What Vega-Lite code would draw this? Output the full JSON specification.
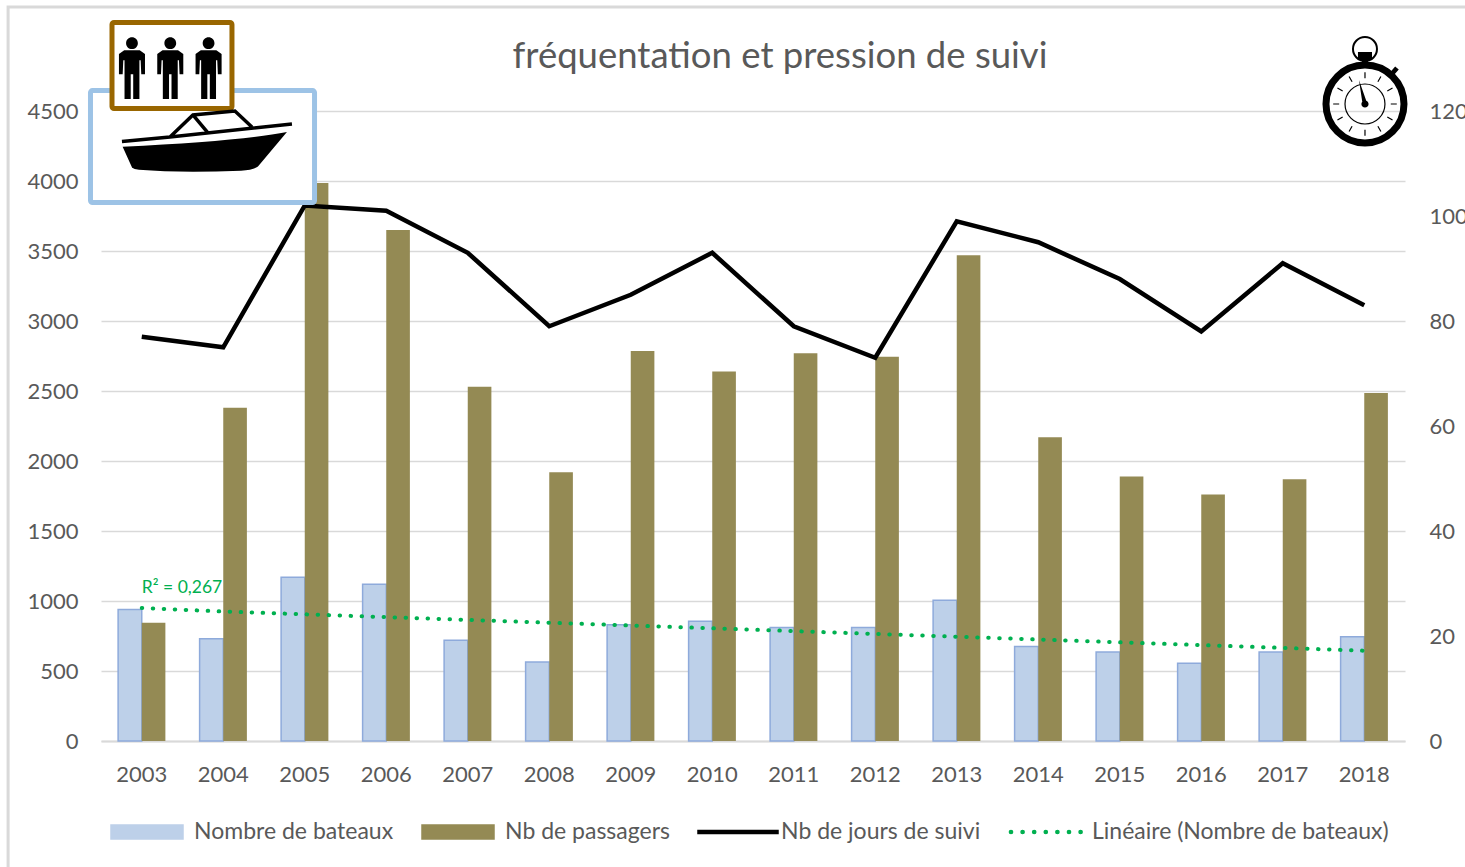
{
"$schema":"https://vega.github.io/schema/vega-lite/v6.json",
"width":1304,"height":630,
"autosize":"none",
"padding":{"left":101,"top":111,"right":60,"bottom":126},
"background":"white",
"config":{"font":"Lato","view":{"stroke":null}},
"title":{"text":"fréquentation et pression de suivi","fontSize":36.5,"font":"Lato","fontWeight":"normal","color":"#595959","anchor":"middle","dx":27,"offset":-70},
"datasets":{
"main":[
{"year":"2003","series":"Nombre de bateaux","value":940},{"year":"2004","series":"Nombre de bateaux","value":730},{"year":"2005","series":"Nombre de bateaux","value":1170},{"year":"2006","series":"Nombre de bateaux","value":1120},{"year":"2007","series":"Nombre de bateaux","value":720},{"year":"2008","series":"Nombre de bateaux","value":565},{"year":"2009","series":"Nombre de bateaux","value":830},{"year":"2010","series":"Nombre de bateaux","value":855},{"year":"2011","series":"Nombre de bateaux","value":810},{"year":"2012","series":"Nombre de bateaux","value":810},{"year":"2013","series":"Nombre de bateaux","value":1005},{"year":"2014","series":"Nombre de bateaux","value":675},{"year":"2015","series":"Nombre de bateaux","value":635},{"year":"2016","series":"Nombre de bateaux","value":555},{"year":"2017","series":"Nombre de bateaux","value":635},{"year":"2018","series":"Nombre de bateaux","value":745},
{"year":"2003","series":"Nb de passagers","value":845},{"year":"2004","series":"Nb de passagers","value":2380},{"year":"2005","series":"Nb de passagers","value":3985},{"year":"2006","series":"Nb de passagers","value":3650},{"year":"2007","series":"Nb de passagers","value":2530},{"year":"2008","series":"Nb de passagers","value":1920},{"year":"2009","series":"Nb de passagers","value":2785},{"year":"2010","series":"Nb de passagers","value":2640},{"year":"2011","series":"Nb de passagers","value":2770},{"year":"2012","series":"Nb de passagers","value":2745},{"year":"2013","series":"Nb de passagers","value":3470},{"year":"2014","series":"Nb de passagers","value":2170},{"year":"2015","series":"Nb de passagers","value":1890},{"year":"2016","series":"Nb de passagers","value":1760},{"year":"2017","series":"Nb de passagers","value":1870},{"year":"2018","series":"Nb de passagers","value":2485},
{"year":"2003","series":"Nb de jours de suivi","value":77},{"year":"2004","series":"Nb de jours de suivi","value":75},{"year":"2005","series":"Nb de jours de suivi","value":102},{"year":"2006","series":"Nb de jours de suivi","value":101},{"year":"2007","series":"Nb de jours de suivi","value":93},{"year":"2008","series":"Nb de jours de suivi","value":79},{"year":"2009","series":"Nb de jours de suivi","value":85},{"year":"2010","series":"Nb de jours de suivi","value":93},{"year":"2011","series":"Nb de jours de suivi","value":79},{"year":"2012","series":"Nb de jours de suivi","value":73},{"year":"2013","series":"Nb de jours de suivi","value":99},{"year":"2014","series":"Nb de jours de suivi","value":95},{"year":"2015","series":"Nb de jours de suivi","value":88},{"year":"2016","series":"Nb de jours de suivi","value":78},{"year":"2017","series":"Nb de jours de suivi","value":91},{"year":"2018","series":"Nb de jours de suivi","value":83},
{"year":"2003","series":"Linéaire (Nombre de bateaux)","value":950},{"year":"2004","series":"Linéaire (Nombre de bateaux)","value":925},{"year":"2005","series":"Linéaire (Nombre de bateaux)","value":905},{"year":"2006","series":"Linéaire (Nombre de bateaux)","value":885},{"year":"2007","series":"Linéaire (Nombre de bateaux)","value":865},{"year":"2008","series":"Linéaire (Nombre de bateaux)","value":845},{"year":"2009","series":"Linéaire (Nombre de bateaux)","value":825},{"year":"2010","series":"Linéaire (Nombre de bateaux)","value":805},{"year":"2011","series":"Linéaire (Nombre de bateaux)","value":785},{"year":"2012","series":"Linéaire (Nombre de bateaux)","value":765},{"year":"2013","series":"Linéaire (Nombre de bateaux)","value":745},{"year":"2014","series":"Linéaire (Nombre de bateaux)","value":725},{"year":"2015","series":"Linéaire (Nombre de bateaux)","value":705},{"year":"2016","series":"Linéaire (Nombre de bateaux)","value":685},{"year":"2017","series":"Linéaire (Nombre de bateaux)","value":665},{"year":"2018","series":"Linéaire (Nombre de bateaux)","value":645}
]
},
"resolve":{"scale":{"x":"independent","y":"independent"}},
"layer":[
{
"data":{"name":"main"},
"encoding":{
"x":{"field":"year","type":"nominal","scale":{"paddingInner":0.42,"paddingOuter":0.21},
"axis":{"title":null,"labelAngle":0,"labelFontSize":22,"labelColor":"#595959","labelPadding":23,"ticks":false,"domainColor":"#d9d9d9","domainWidth":2,"grid":false}},
"y":{"field":"value","type":"quantitative","scale":{"domain":[0,4500],"nice":false},
"axis":{"title":null,"values":[0,500,1000,1500,2000,2500,3000,3500,4000,4500],"format":"d","labelFontSize":22,"labelColor":"#595959","labelPadding":23,"ticks":false,"domain":false,"grid":true,"gridColor":"#d9d9d9","gridWidth":1.5}},
"color":{"field":"series","type":"nominal","scale":{"domain":["Nombre de bateaux","Nb de passagers","Nb de jours de suivi","Linéaire (Nombre de bateaux)"],"range":["#BDD0E9","#948A54","#000000","#00B050"]},
"legend":{"title":null,"orient":"none","legendX":9,"legendY":680,"direction":"horizontal","columns":4,"gridAlign":"each","columnPadding":25,"symbolSize":6400,"symbolStrokeWidth":1.5,"symbolType":"M-1,-0.175H0.8V0.175H-1Z","labelFontSize":23,"labelLimit":500,"labelColor":"#595959","labelOffset":2,
"encoding":{"symbols":{
"shape":{"value":{"expr":"indexof(['Nombre de bateaux','Nb de passagers'],datum.value)>=0 ? 'M-1,-0.175H0.8V0.175H-1Z' : datum.value=='Nb de jours de suivi' ? 'M-1,-0.04H1V0.04H-1Z' : 'M-0.99,0A0.04,0.04 0 1 1 -0.91,0A0.04,0.04 0 1 1 -0.99,0ZM-0.7,0A0.04,0.04 0 1 1 -0.62,0A0.04,0.04 0 1 1 -0.7,0ZM-0.41,0A0.04,0.04 0 1 1 -0.33,0A0.04,0.04 0 1 1 -0.41,0ZM-0.12,0A0.04,0.04 0 1 1 -0.04,0A0.04,0.04 0 1 1 -0.12,0ZM0.17,0A0.04,0.04 0 1 1 0.25,0A0.04,0.04 0 1 1 0.17,0ZM0.46,0A0.04,0.04 0 1 1 0.54,0A0.04,0.04 0 1 1 0.46,0ZM0.75,0A0.04,0.04 0 1 1 0.83,0A0.04,0.04 0 1 1 0.75,0Z'"}},
"fill":{"value":{"expr":"datum.value=='Nombre de bateaux' ? '#BDD0E9' : datum.value=='Nb de passagers' ? '#948A54' : datum.value=='Nb de jours de suivi' ? '#000000' : '#00B050'"}},
"stroke":{"value":{"expr":"datum.value=='Nombre de bateaux' ? '#8EAADB' : datum.value=='Nb de passagers' ? '#948A54' : datum.value=='Nb de jours de suivi' ? '#000000' : '#00B050'"}},
"opacity":{"value":1}
}}
}}
},
"layer":[
{"transform":[{"filter":"datum.series=='Nombre de bateaux'"}],"mark":{"type":"bar","stroke":"#8EAADB","strokeWidth":1.5},"encoding":{"xOffset":{"datum":"a","scale":{"domain":["a","b"]}}}},
{"transform":[{"filter":"datum.series=='Nb de passagers'"}],"mark":{"type":"bar"},"encoding":{"xOffset":{"datum":"b","scale":{"domain":["a","b"]}}}},
{"transform":[{"filter":"datum.series=='Linéaire (Nombre de bateaux)'"}],"mark":{"type":"line","strokeWidth":4,"strokeCap":"round","strokeDash":[0.5,10.5]}},
{"data":{"values":[{"year":"2003","value":1093,"label":"R² = 0,267"}]},"mark":{"type":"text","align":"left","baseline":"middle","fontSize":17.5,"color":"#00B050"},"encoding":{"text":{"field":"label"},"color":{"value":"#00B050"}}}
]
},
{
"data":{"name":"main"},
"transform":[{"filter":"datum.series=='Nb de jours de suivi'"}],
"mark":{"type":"line","strokeWidth":4.5},
"encoding":{
"x":{"field":"year","type":"nominal","scale":{"paddingInner":0.42,"paddingOuter":0.21},"axis":null},
"y":{"field":"value","type":"quantitative","scale":{"domain":[0,120],"nice":false},
"axis":{"orient":"right","title":null,"values":[0,20,40,60,80,100,120],"labelFontSize":22,"labelColor":"#595959","labelPadding":24,"ticks":false,"domain":false,"grid":false}},
"color":{"field":"series","type":"nominal"}
}
},
{
"encoding":{
"x":{"field":"px","type":"quantitative","scale":{"domain":[2002.5,2018.5],"nice":false,"zero":false},"axis":null},
"y":{"field":"py","type":"quantitative","scale":{"domain":[0,4500],"nice":false},"axis":null}
},
"layer":[
{"data":{"values":[{"px":2001.36,"px2":2019.5,"py":5243,"py2":-1000}]},"mark":{"type":"rect","fill":"transparent","stroke":"#d9d9d9","strokeWidth":3,"clip":false},"encoding":{"x2":{"field":"px2"},"y2":{"field":"py2"}}},
{"data":{"values":[{"px":2002.371,"px2":2005.12,"py":4646,"py2":3846}]},"mark":{"type":"rect","fill":"white","stroke":"#9DC3E6","strokeWidth":5,"cornerRadius":2},"encoding":{"x2":{"field":"px2"},"y2":{"field":"py2"}}},
{"data":{"values":[{"px":2002.635,"px2":2004.107,"py":5132,"py2":4518}]},"mark":{"type":"rect","fill":"white","stroke":"#996600","strokeWidth":5,"cornerRadius":2},"encoding":{"x2":{"field":"px2"},"y2":{"field":"py2"}}},
{"data":{"values":[{"px":2003.8,"py":4286}]},"mark":{"type":"point","filled":true,"opacity":1,"fill":"black","stroke":null,"size":28900,"shape":"M-0.992,0.067L-0.88,0.315Q-0.86,0.33 -0.8,0.34Q-0.3,0.38 0.4,0.35Q0.55,0.34 0.6,0.3L0.941,-0.106Q0.4,0 -0.992,0.067Z"}},
{"data":{"values":[{"px":2003.8,"py":4286}]},"mark":{"type":"point","filled":false,"opacity":1,"stroke":"black","strokeWidth":3.5,"size":28900,"shape":"M-1,0.006L-0.435,-0.047L1,-0.2M-0.435,-0.047L-0.165,-0.306L0.329,-0.353L0.529,-0.165M-0.165,-0.306L0.012,-0.094"}},
{"data":{"values":[{"px":2002.88,"py":4807},{"px":2003.35,"py":4807},{"px":2003.82,"py":4807}]},"mark":{"type":"point","filled":true,"opacity":1,"fill":"black","stroke":null,"size":3844,"shape":"M-0.19,-0.8A0.19,0.19 0 1 1 0.19,-0.8A0.19,0.19 0 1 1 -0.19,-0.8ZM-0.25,-0.57L0.25,-0.57L0.42,-0.45L0.42,0.2L0.3,0.2L0.28,-0.25L0.24,-0.25L0.24,1L0.04,1L0.04,0.2L-0.04,0.2L-0.04,1L-0.24,1L-0.24,-0.25L-0.28,-0.25L-0.3,0.2L-0.42,0.2L-0.42,-0.45Z"}},
{"data":{"values":[{"px":2018.009,"py":4550}]},"mark":{"type":"point","filled":false,"opacity":1,"stroke":"black","strokeWidth":7,"size":14400,"shape":"M-0.65,0A0.65,0.65 0 1 1 0.65,0A0.65,0.65 0 1 1 -0.65,0Z"}},
{"data":{"values":[{"px":2018.009,"py":4550}]},"mark":{"type":"point","filled":false,"opacity":1,"stroke":"black","strokeWidth":1.2,"size":14400,"shape":"M-0.333,0A0.333,0.333 0 1 1 0.333,0A0.333,0.333 0 1 1 -0.333,0ZM0,-0.43L0,-0.53M0.215,-0.372L0.265,-0.459M0.372,-0.215L0.459,-0.265M0.43,0L0.53,0M0.372,0.215L0.459,0.265M0.215,0.372L0.265,0.459M0,0.43L0,0.53M-0.215,0.372L-0.265,0.459M-0.372,0.215L-0.459,0.265M-0.43,0L-0.53,0M-0.372,-0.215L-0.459,-0.265M-0.215,-0.372L-0.265,-0.459"}},
{"data":{"values":[{"px":2018.009,"py":4550}]},"mark":{"type":"point","filled":false,"opacity":1,"stroke":"black","strokeWidth":2,"size":14400,"shape":"M-0.2,-0.917A0.2,0.2 0 1 1 0.2,-0.917A0.2,0.2 0 1 1 -0.2,-0.917Z"}},
{"data":{"values":[{"px":2018.009,"py":4550}]},"mark":{"type":"point","filled":true,"opacity":1,"fill":"black","stroke":null,"size":14400,"shape":"M-0.117,-0.867L0.117,-0.867L0.117,-0.733L0.05,-0.733L0.05,-0.65L-0.05,-0.65L-0.05,-0.733L-0.117,-0.733ZM0.387,-0.493L0.447,-0.441L0.563,-0.574L0.503,-0.626ZM-0.1,-0.4L0.04,0L-0.04,0ZM-0.06,0A0.06,0.06 0 1 1 0.06,0A0.06,0.06 0 1 1 -0.06,0Z"}}
]
}
]
}
